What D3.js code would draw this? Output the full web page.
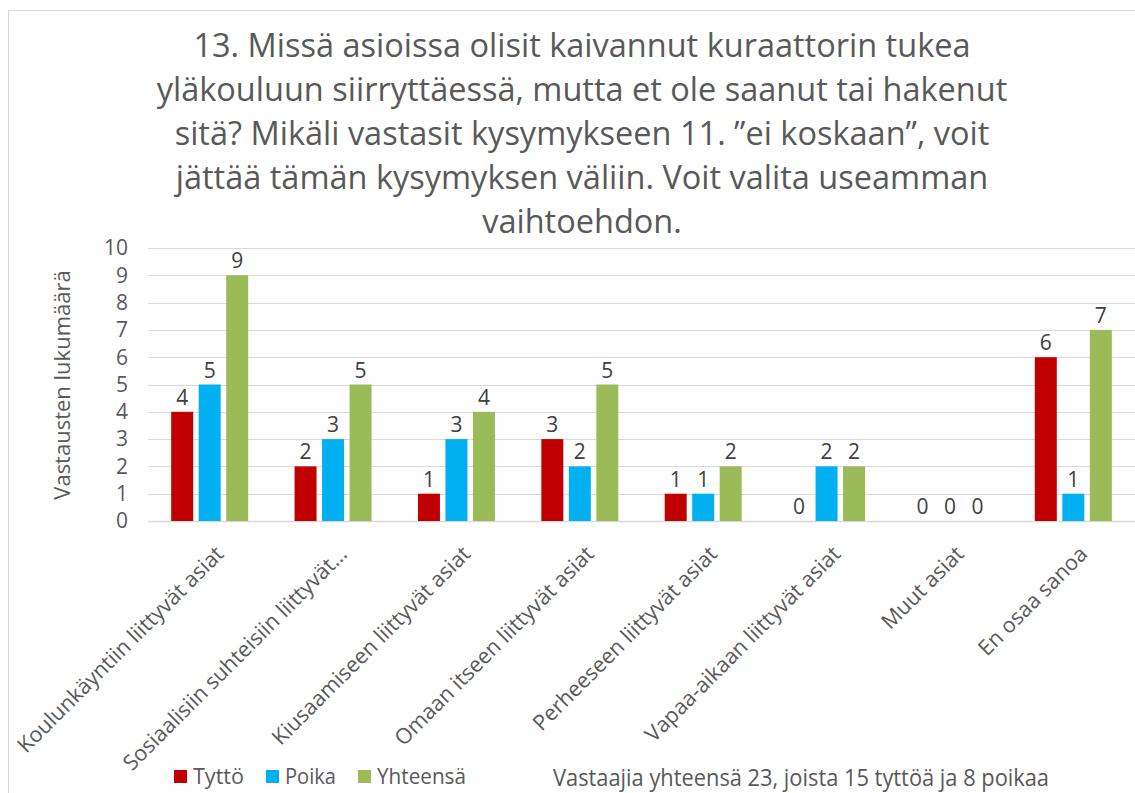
<!DOCTYPE html>
<html>
<head>
<meta charset="utf-8">
<script src="https://cdn.jsdelivr.net/npm/d3@7"></script>
<style>
  body { margin: 0; background: #fff; }
  text { font-family: "Open Sans", "DejaVu Sans", sans-serif; fill: #595959; }
</style>
</head>
<body>
<script>
const titleLines = [
  '13. Missä asioissa olisit kaivannut kuraattorin tukea',
  'yläkouluun siirryttäessä, mutta et ole saanut tai hakenut',
  'sitä? Mikäli vastasit kysymykseen 11. ”ei koskaan”, voit',
  'jättää tämän kysymyksen väliin. Voit valita useamman',
  'vaihtoehdon.',
]
const categories = [
  'Koulunkäyntiin liittyvät asiat',
  'Sosiaalisiin suhteisiin liittyvät…',
  'Kiusaamiseen liittyvät asiat',
  'Omaan itseen liittyvät asiat',
  'Perheeseen liittyvät asiat',
  'Vapaa-aikaan liittyvät asiat',
  'Muut asiat',
  'En osaa sanoa',
]
const seriesNames = ['Tyttö', 'Poika', 'Yhteensä']
const tytto = [4, 2, 1, 3, 1, 0, 0, 6]
const poika = [5, 3, 3, 2, 1, 2, 0, 1]
const yhteensa = [9, 5, 4, 5, 2, 2, 0, 7]
const yTicks = [0, 1, 2, 3, 4, 5, 6, 7, 8, 9, 10]
const yTitle = 'Vastausten lukumäärä'
const footnote = 'Vastaajia yhteensä 23, joista 15 tyttöä ja 8 poikaa'

const colors = ['#C00000', '#00B0F0', '#9BBB59']
const values = [tytto, poika, yhteensa]

const width = 1135, height = 793
const svg = d3.select('body').append('svg')
  .attr('width', width)
  .attr('height', height)

// chart frame
svg.append('rect')
  .attr('x', 8.5).attr('y', 10.5)
  .attr('width', 1140).attr('height', 800)
  .attr('fill', 'none')
  .attr('stroke', '#d9d9d9')

// title
svg.append('g').selectAll('text')
  .data(titleLines)
  .enter().append('text')
  .attr('x', 582)
  .attr('y', (d, i) => 57 + i * 44)
  .attr('text-anchor', 'middle')
  .style('font-size', '32.5px')
  .text(d => d)

const x = d3.scaleBand()
  .domain(categories)
  .range([148, 1135])

const groupW = 77
const xSub = d3.scaleBand()
  .domain(seriesNames)
  .range([(x.bandwidth() - groupW) / 2, (x.bandwidth() + groupW) / 2])
  .paddingInner(0.2)

const y = d3.scaleLinear()
  .domain([0, 10])
  .range([521, 248])

// gridlines
svg.append('g').selectAll('line')
  .data(yTicks)
  .enter().append('line')
  .attr('x1', 148).attr('x2', 1135)
  .attr('y1', d => Math.round(y(d)) + 0.5)
  .attr('y2', d => Math.round(y(d)) + 0.5)
  .attr('stroke', '#d9d9d9')
  .attr('stroke-width', d => d === 0 ? 1.5 : 1)

// y tick labels
svg.append('g').selectAll('text')
  .data(yTicks)
  .enter().append('text')
  .attr('x', 128)
  .attr('y', d => y(d))
  .attr('dy', '0.35em')
  .attr('text-anchor', 'end')
  .style('font-size', '21px')
  .text(d => d)

// y axis title
svg.append('text')
  .attr('transform', 'translate(62, 385) rotate(-90)')
  .attr('dy', '0.35em')
  .attr('text-anchor', 'middle')
  .style('font-size', '22px')
  .text(yTitle)

// bars
const rows = categories.map((c, i) => ({
  cat: c,
  items: seriesNames.map((s, j) => ({ key: s, value: values[j][i], color: colors[j] }))
}))

const groups = svg.append('g').selectAll('g')
  .data(rows)
  .enter().append('g')
  .attr('transform', d => `translate(${x(d.cat)}, 0)`)

groups.selectAll('rect')
  .data(d => d.items)
  .enter().append('rect')
  .attr('x', d => xSub(d.key))
  .attr('y', d => y(d.value))
  .attr('width', xSub.bandwidth())
  .attr('height', d => y(0) - y(d.value))
  .attr('fill', d => d.color)

groups.selectAll('text')
  .data(d => d.items)
  .enter().append('text')
  .attr('x', d => xSub(d.key) + xSub.bandwidth() / 2)
  .attr('y', d => y(d.value) - 7)
  .attr('text-anchor', 'middle')
  .style('font-size', '21px')
  .style('fill', '#404040')
  .text(d => d.value)

// category labels
svg.append('g').selectAll('text')
  .data(categories)
  .enter().append('text')
  .attr('transform', d => `translate(${x(d) + x.bandwidth() / 2 + 10}, 550) rotate(-45)`)
  .attr('dy', '0.35em')
  .attr('text-anchor', 'end')
  .style('font-size', '21.5px')
  .text(d => d)

// legend
const legendX = [174, 266, 358]
const legendW = [51, 51, 89]
const legend = svg.append('g').selectAll('g')
  .data(seriesNames)
  .enter().append('g')
  .attr('transform', (d, i) => `translate(${legendX[i]}, 770)`)
legend.append('rect')
  .attr('width', 13).attr('height', 13)
  .attr('fill', (d, i) => colors[i])
legend.append('text')
  .attr('x', 19)
  .attr('y', 14)
  .attr('textLength', (d, i) => legendW[i])
  .attr('lengthAdjust', 'spacingAndGlyphs')
  .style('font-size', '21px')
  .text(d => d)

// footnote
svg.append('text')
  .attr('x', 553)
  .attr('y', 786)
  .attr('textLength', 496)
  .attr('lengthAdjust', 'spacingAndGlyphs')
  .style('font-size', '23px')
  .text(footnote)
</script>
</body>
</html>
